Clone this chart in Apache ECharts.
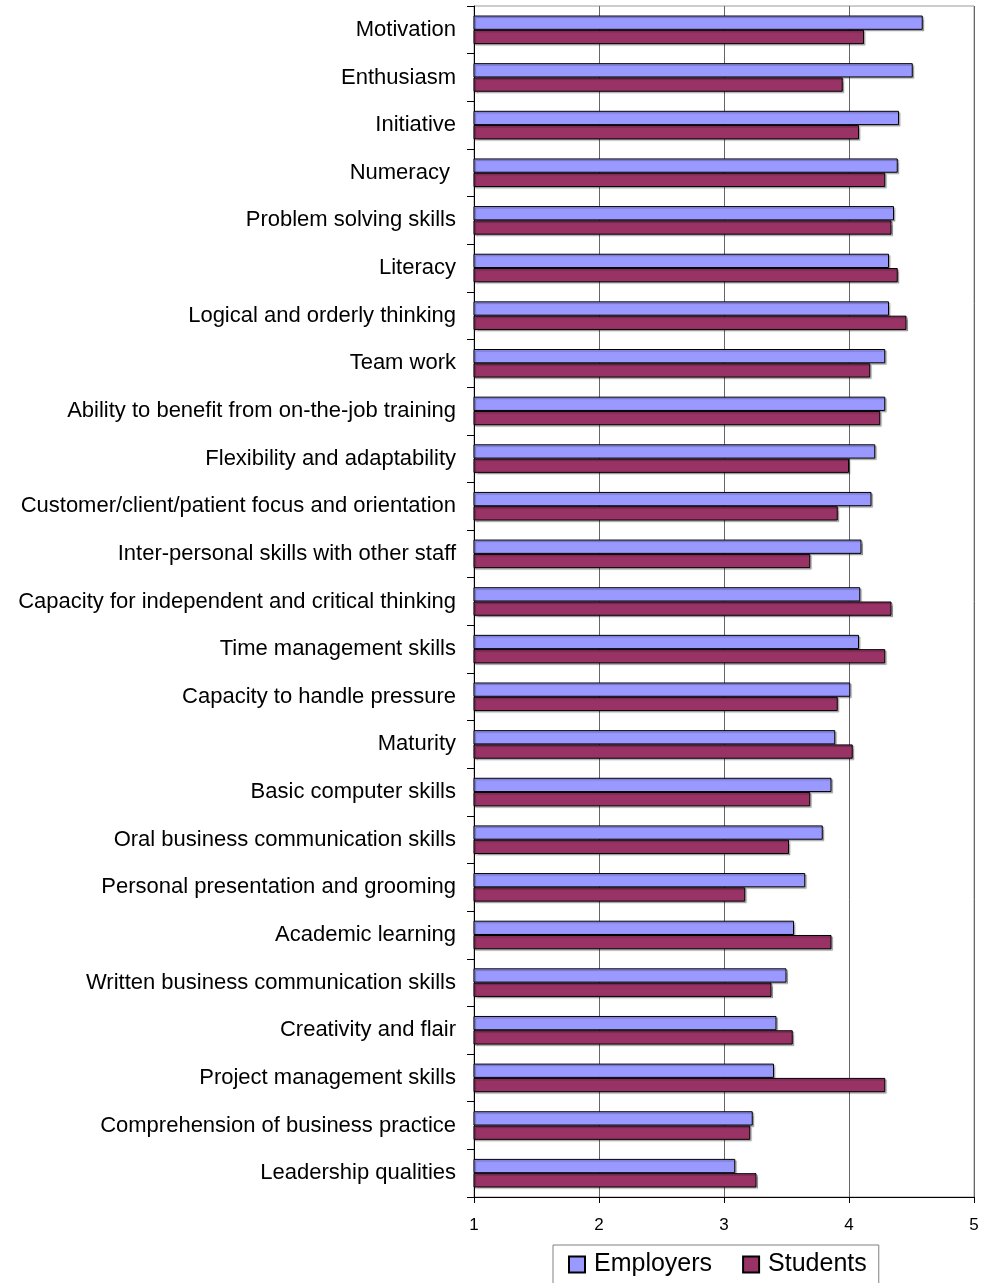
<!DOCTYPE html>
<html>
<head>
<meta charset="utf-8">
<script src="https://cdn.jsdelivr.net/npm/echarts@6/dist/echarts.min.js"></script>
<style>
  html, body { margin: 0; padding: 0; background: #fff; }
  #chart { width: 986px; height: 1283px; }
</style>
</head>
<body>
<div id="chart"></div>
<script>
// Skill attributes, listed top to bottom
const skills = [
  "Motivation",
  "Enthusiasm",
  "Initiative",
  "Numeracy ",
  "Problem solving skills",
  "Literacy",
  "Logical and orderly thinking",
  "Team work",
  "Ability to benefit from on-the-job training",
  "Flexibility and adaptability",
  "Customer/client/patient focus and orientation",
  "Inter-personal skills with other staff",
  "Capacity for independent and critical thinking",
  "Time management skills",
  "Capacity to handle pressure",
  "Maturity",
  "Basic computer skills",
  "Oral business communication skills",
  "Personal presentation and grooming",
  "Academic learning",
  "Written business communication skills",
  "Creativity and flair",
  "Project management skills",
  "Comprehension of business practice",
  "Leadership qualities"
];

// Mean importance ratings (1-5 scale)
const employers = [4.59, 4.51, 4.40, 4.39, 4.36, 4.32, 4.32, 4.29, 4.29, 4.21, 4.18, 4.10, 4.09,
                   4.08, 4.01, 3.89, 3.86, 3.79, 3.65, 3.56, 3.50, 3.42, 3.40, 3.23, 3.09];
const students  = [4.12, 3.95, 4.08, 4.29, 4.34, 4.39, 4.46, 4.17, 4.25, 4.00, 3.91, 3.69, 4.34,
                   4.29, 3.91, 4.03, 3.69, 3.52, 3.17, 3.86, 3.38, 3.55, 4.29, 3.21, 3.26];

const valueTicks = [1, 2, 3, 4, 5];

const chart = echarts.init(document.getElementById('chart'), null, { renderer: 'canvas' });

const barShadow = {
  shadowColor: 'rgba(0,0,0,0.28)',
  shadowBlur: 1,
  shadowOffsetX: 1.5,
  shadowOffsetY: 1.5
};

chart.setOption({
  animation: false,
  backgroundColor: '#ffffff',
  textStyle: { fontFamily: 'Liberation Sans, Arial, sans-serif' },
  grid: {
    left: 474,
    right: 12,
    top: 6,
    bottom: 86,
    show: true,
    borderColor: '#9a9a9a',
    borderWidth: 1
  },
  legend: {
    data: ['Employers', 'Students'],
    left: 553,
    top: 1245,
    orient: 'horizontal',
    icon: 'rect',
    itemWidth: 16,
    itemHeight: 16,
    itemGap: 30,
    padding: [7, 12, 10, 15],
    borderColor: '#808080',
    borderWidth: 1,
    textStyle: {
      fontSize: 25,
      color: '#000',
      padding: [0, 0, 0, 4],
      fontFamily: 'Liberation Sans, Arial, sans-serif'
    }
  },
  xAxis: {
    type: 'value',
    min: valueTicks[0],
    max: valueTicks[valueTicks.length - 1],
    interval: 1,
    axisLine: { show: true, lineStyle: { color: '#000', width: 1 } },
    axisTick: { show: true, length: 6, inside: false, lineStyle: { color: '#000' } },
    axisLabel: { fontSize: 17, color: '#000', margin: 20 },
    splitLine: { show: true, lineStyle: { color: '#666666', width: 1 } }
  },
  yAxis: {
    type: 'category',
    data: skills,
    inverse: true,
    axisLine: { show: true, lineStyle: { color: '#000', width: 1 } },
    axisTick: { show: true, length: 7, lineStyle: { color: '#000' } },
    axisLabel: { fontSize: 22, color: '#000', margin: 18, interval: 0, padding: [6, 0, 0, 0] },
    splitLine: { show: false }
  },
  series: [
    {
      name: 'Employers',
      type: 'bar',
      data: employers,
      barGap: '0%',
      barCategoryGap: '40%',
      itemStyle: Object.assign({ color: '#9999FF', borderColor: '#000', borderWidth: 1 }, barShadow)
    },
    {
      name: 'Students',
      type: 'bar',
      data: students,
      barGap: '0%',
      barCategoryGap: '40%',
      itemStyle: Object.assign({ color: '#993366', borderColor: '#000', borderWidth: 1 }, barShadow)
    }
  ]
});
</script>
</body>
</html>
